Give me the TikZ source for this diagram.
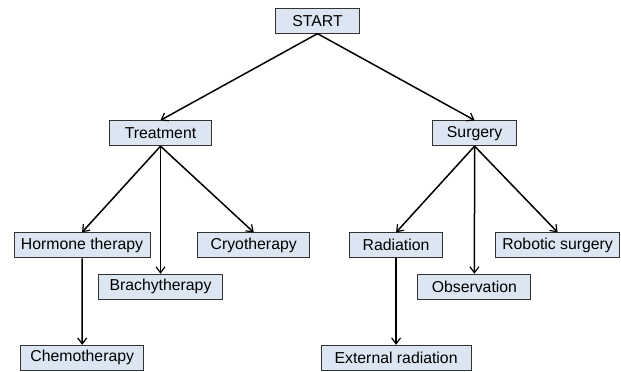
\documentclass[tikz,border=0pt]{standalone}
\usepackage{fontspec}
\setmainfont{Liberation Sans}
\usetikzlibrary{arrows.meta}
\definecolor{boxfill}{HTML}{DCE6F2}
\definecolor{boxline}{HTML}{333333}
\begin{document}
\begin{tikzpicture}[x=1pt,y=-1pt,
  box/.style={draw=boxline,line width=0.9pt,fill=boxfill,inner sep=0pt,
    minimum height=25pt,font=\fontsize{15.8}{18}\selectfont},
  conn/.style={line width=1.5pt,-{Straight Barb[length=6pt,width=9pt,line width=1.2pt]}}]
\useasboundingbox (0,0) rectangle (621,372);
\node[box,minimum width=84pt] (start) at (317.5,20.7) {START};
\node[box,minimum width=102pt] (treat) at (160.5,133.2) {Treatment};
\node[box,minimum width=84pt] (surg) at (474.6,133.2) {Surgery};
\node[box,minimum width=136pt] (horm) at (82,245.3) {Hormone therapy};
\node[box,minimum width=112pt] (cryo) at (253.7,245.3) {Cryotherapy};
\node[box,minimum width=124pt] (brachy) at (160.5,286.7) {Brachytherapy};
\node[box,minimum width=93pt] (rad) at (396.1,245.3) {Radiation};
\node[box,minimum width=124pt] (robot) at (557.6,245.3) {Robotic surgery};
\node[box,minimum width=113pt] (obs) at (474.4,286.7) {Observation};
\node[box,minimum width=123pt] (chemo) at (82.2,357.8) {Chemotherapy};
\node[box,minimum width=150pt] (ext) at (396.1,357.8) {External radiation};
\draw[conn] (start.south) -- (treat.north);
\draw[conn] (start.south) -- (surg.north);
\draw[conn] (treat.south) -- (horm.north);
\draw[conn] (treat.south) -- (brachy.north);
\draw[conn] (treat.south) -- (cryo.north);
\draw[conn] (surg.south) -- (rad.north);
\draw[conn] (surg.south) -- (obs.north);
\draw[conn] (surg.south) -- (robot.north);
\draw[conn] (horm.south) -- (chemo.north);
\draw[conn] (rad.south) -- (ext.north);
\end{tikzpicture}
\end{document}
